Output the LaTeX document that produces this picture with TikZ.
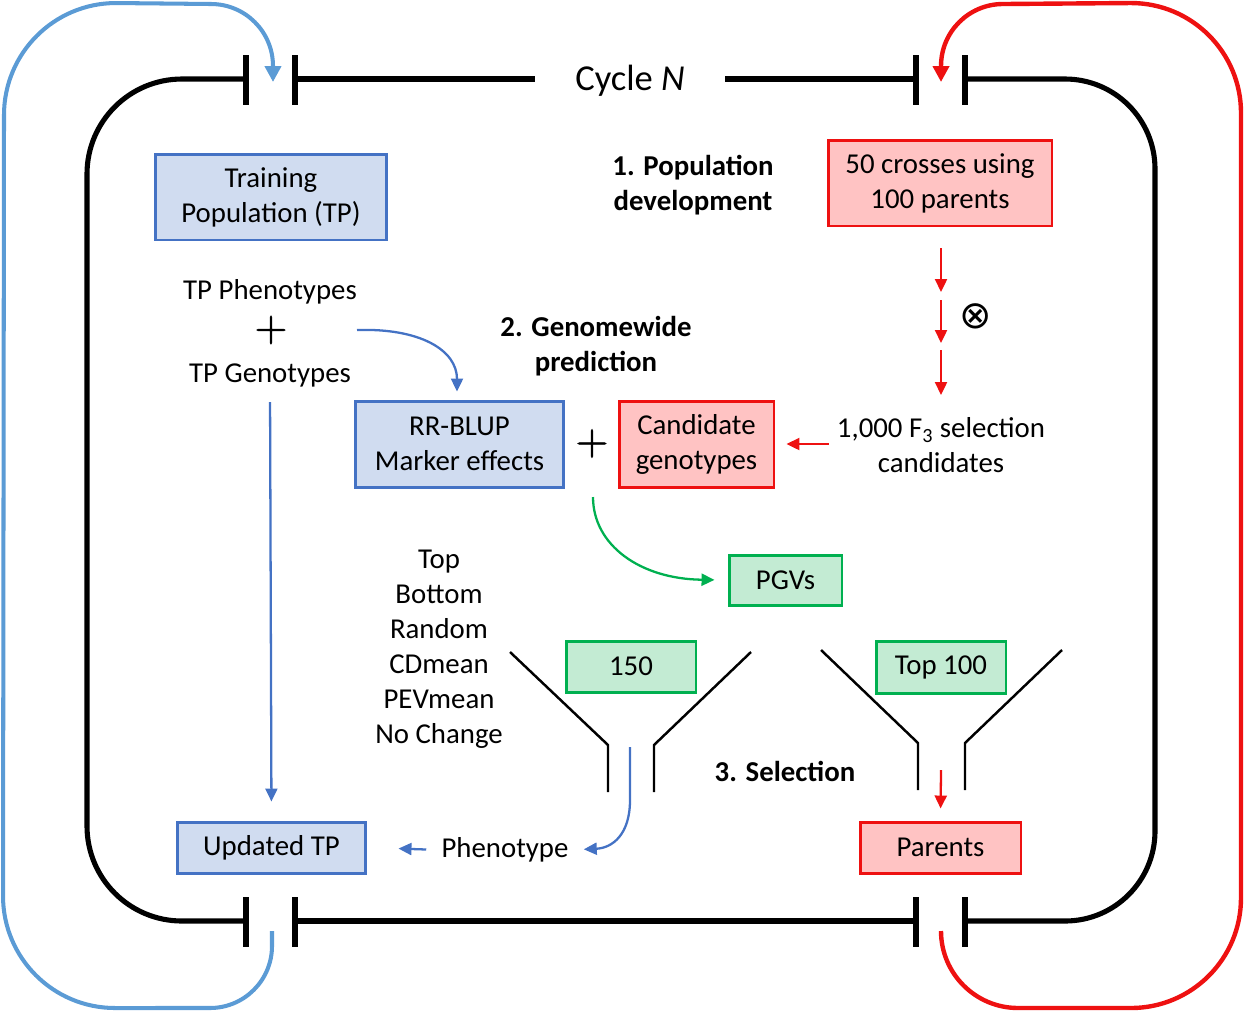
\documentclass[tikz,border=0pt]{standalone}
\usepackage{fontspec}
\setmainfont{Carlito}
\newfontfamily\dejavu{DejaVu Sans}
\newfontface\plusfnt{Latin Modern Roman}[FakeBold=1.6]
\usetikzlibrary{arrows.meta}
\definecolor{bfill}{HTML}{D0DCF0}
\definecolor{bdraw}{HTML}{4472C4}
\definecolor{rfill}{HTML}{FFC3C3}
\definecolor{rdraw}{HTML}{EE1111}
\definecolor{gfill}{HTML}{C3EBD3}
\definecolor{gdraw}{HTML}{00B050}
\definecolor{loopblue}{HTML}{5B9BD5}
\newcommand\bfnt{\fontsize{16.4}{19.9}\selectfont}
\begin{document}
\begin{tikzpicture}[x=0.02cm,y=-0.02cm,
  txt/.style={font=\bfnt, align=center, inner sep=0pt, yshift=-0.04cm},
  hdr/.style={font=\bfnt\bfseries, align=center, inner sep=0pt, yshift=-0.04cm},
  box/.style={draw, line width=1.7pt, font=\bfnt, align=center, inner sep=0pt},
  bluebox/.style={box, fill=bfill, draw=bdraw},
  redbox/.style={box, fill=rfill, draw=rdraw},
  greenbox/.style={box, fill=gfill, draw=gdraw},
  frame/.style={line width=2.9pt},
  funnel/.style={line width=1.4pt},
  plus/.style={font=\plusfnt\fontsize{25.5}{25.5}\selectfont, inner sep=0pt},
  loop/.style={line width=2.3pt, -{Triangle[length=0.32cm,width=0.32cm]}},
  arr/.style={line width=1.3pt, -{Triangle[length=0.26cm,width=0.24cm]}},
]
\useasboundingbox (0,0) rectangle (1246,1012);

% nodes
\node[bluebox, minimum width=4.64cm, minimum height=1.72cm] (tp) at (271,197) {Training\\Population (TP)};
\node[redbox, minimum width=4.48cm, minimum height=1.72cm] (cross) at (940,183) {50 crosses using\\100 parents};
\node[hdr] (h1) at (693,183) {1. Population\\development};
\node[txt] (tpph) at (270,290) {TP Phenotypes};
\node[plus] (p1) at (271,330) {+};
\node[txt] (tpge) at (270,373) {TP Genotypes};
\node[hdr] (h2) at (596,344) {2. Genomewide\\prediction};
\node[bluebox, minimum width=4.18cm, minimum height=1.72cm] (rr) at (459.5,444) {RR-BLUP\\Marker effects};
\node[plus] (p2) at (592,443.5) {+};
\node[redbox, minimum width=3.1cm, minimum height=1.72cm] (cand) at (696.5,444) {Candidate\\genotypes};
\node[txt] (f3) at (941,443.5) {1,000 F\textsubscript{3} selection\\candidates};
\node[font=\dejavu\fontsize{22}{22}\selectfont, inner sep=0pt] (self) at (976,316) {⊗};
\node[greenbox, minimum width=2.26cm, minimum height=1cm] (pgv) at (785.5,580) {PGVs};
\node[txt] (list) at (439,647) {Top\\Bottom\\Random\\CDmean\\PEVmean\\No Change};
\node[greenbox, minimum width=2.6cm, minimum height=1.02cm] (n150) at (631,666.5) {150};
\node[greenbox, minimum width=2.6cm, minimum height=1.04cm] (top100) at (941,667) {Top 100};
\node[hdr] (h3) at (785,769) {3. Selection};
\node[txt] (phen) at (505,848) {Phenotype};
\node[bluebox, minimum width=3.78cm, minimum height=1.02cm] (upd) at (271.5,847.5) {Updated TP};
\node[redbox, minimum width=3.22cm, minimum height=1.02cm] (par) at (940.5,847.5) {Parents};
\node[font=\fontsize{20.8}{25}\selectfont, inner sep=0pt, yshift=-0.04cm] (cyc) at (630,79) {Cycle \textit{N}};

% frame
\draw[frame, rounded corners=1.9cm] (246,79) -- (87,79) -- (87,921) -- (246,921);
\draw[frame, rounded corners=1.8cm] (965,79) -- (1155,79) -- (1155,921) -- (965,921);
\draw[frame] (295,79) -- (535,79) (725,79) -- (916,79) (295,921) -- (916,921);
\foreach \x in {246,295,916,965} {
  \draw[frame] (\x,55) -- (\x,105);
  \draw[frame] (\x,897) -- (\x,947);
}

% outer loops
\coordinate (bt) at (273,82);
\coordinate (bb) at (272,931);
\coordinate (rt) at (941,82);
\coordinate (rb) at (941,931);
\draw[loop, loopblue] (bb) -- (272,946) arc[start angle=0,end angle=-90,radius=1.24cm]
  -- (115,1008) arc[start angle=-90,end angle=-180,radius=2.24cm]
  -- (4,115) arc[start angle=180,end angle=90,radius=2.24cm]
  -- (211,4) arc[start angle=90,end angle=0,radius=1.24cm] -- (bt);
\draw[loop, rdraw, line width=2.5pt] (rb) arc[start angle=180,end angle=270,radius=1.54cm]
  -- (1131,1008) arc[start angle=-90,end angle=0,radius=2.2cm]
  -- (1241,113) arc[start angle=0,end angle=90,radius=2.2cm]
  -- (1003,4) arc[start angle=90,end angle=180,radius=1.24cm] -- (rt);

% funnels
\draw[funnel] (510,652) -- (608,745) -- (608,792);
\draw[funnel] (751,652) -- (654,745) -- (654,792);
\draw[funnel] (821,650) -- (918,743) -- (918,790);
\draw[funnel] (1062,650) -- (965,743) -- (965,790);

% connectors
\coordinate (c1) at (357,330);
\draw[arr, bdraw, shorten >=0.16cm] (c1) .. controls (420,328) and (457,350) .. ([xshift=-0.05cm]rr.north);
\draw[arr, bdraw, shorten <=0.3cm, shorten >=0.38cm] (tpge.south) -- (upd.north);
\coordinate (r1) at (941,248); \coordinate (r2) at (941,292);
\coordinate (r3) at (941,300); \coordinate (r4) at (941,343);
\coordinate (r5) at (941,350); \coordinate (r6) at (941,395);
\draw[arr, rdraw] (r1) -- (r2);
\draw[arr, rdraw] (r3) -- (r4);
\draw[arr, rdraw] (r5) -- (r6);
\draw[arr, rdraw, shorten <=0.16cm, shorten >=0.22cm] (f3.west |- cand.east) -- (cand.east);
\coordinate (g1) at (593,497);
\draw[arr, gdraw, shorten >=0.26cm] (g1) .. controls (593,545) and (640,579) .. (pgv.west);
\coordinate (fb) at (630,747);
\draw[arr, bdraw, shorten >=0.3cm] (fb) -- (630,800) .. controls (630,835) and (612,848) .. (phen.east);
\draw[arr, bdraw, shorten <=0.3cm, shorten >=0.62cm] (phen.west) -- (upd.east);
\coordinate (sf) at (941,770);
\draw[arr, rdraw, shorten >=0.24cm] (sf) -- (par.north);
\end{tikzpicture}
\end{document}
